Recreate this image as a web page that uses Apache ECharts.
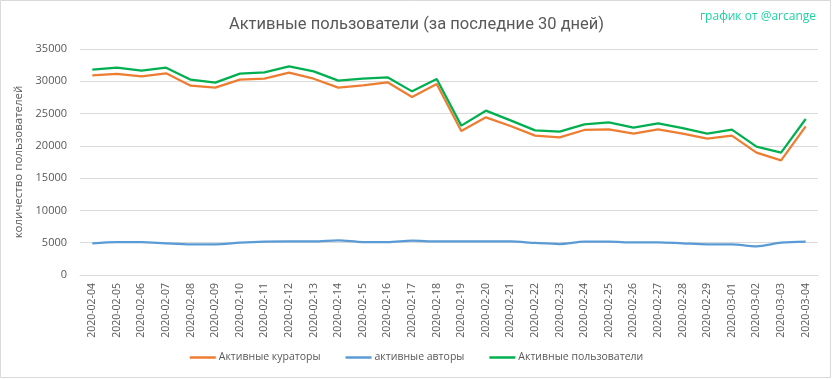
<!DOCTYPE html>
<html>
<head>
<meta charset="utf-8">
<script src="https://cdn.jsdelivr.net/npm/echarts@6/dist/echarts.min.js"></script>
<style>html,body{margin:0;padding:0;background:#fff}#c{width:833px;height:379px}</style>
</head>
<body>
<div id="c"></div>
<script>
const categories = ["2020-02-04","2020-02-05","2020-02-06","2020-02-07","2020-02-08","2020-02-09","2020-02-10","2020-02-11","2020-02-12","2020-02-13","2020-02-14","2020-02-15","2020-02-16","2020-02-17","2020-02-18","2020-02-19","2020-02-20","2020-02-21","2020-02-22","2020-02-23","2020-02-24","2020-02-25","2020-02-26","2020-02-27","2020-02-28","2020-02-29","2020-03-01","2020-03-02","2020-03-03","2020-03-04"];
const curators = [30920,31130,30770,31230,29320,29010,30250,30400,31330,30400,29010,29370,29840,27570,29580,22300,24420,23070,21580,21320,22460,22560,21890,22560,21890,21110,21580,18950,17760,23020];
const authors = [4900,5110,5100,4900,4750,4750,5000,5160,5210,5210,5370,5110,5110,5320,5210,5210,5210,5210,4960,4800,5160,5160,5060,5060,4900,4750,4750,4440,5000,5160];
const users = [31800,32110,31640,32110,30250,29790,31180,31390,32310,31540,30100,30400,30610,28440,30350,23130,25450,23950,22400,22200,23330,23640,22820,23490,22760,21890,22510,19870,18950,24160];
const seriesNames = ["Активные кураторы","активные авторы","Активные пользователи"];
const titleText = "Активные пользователи (за последние 30 дней)";
const creditText = "график от @arcange";
const yAxisName = "количество пользователей";

const chart = echarts.init(document.getElementById('c'), null, {renderer:'canvas'});
const txt = '#595959';
chart.setOption({
  animation:false,
  backgroundColor:'#fff',
  graphic:[{type:'rect',shape:{x:0.5,y:0.5,width:830,height:377},style:{fill:'none',stroke:'#D9D9D9',lineWidth:1}}],
  title:[
    {text:titleText,left:'center',top:11,textStyle:{fontFamily:'Roboto, sans-serif',fontSize:16.5,fontWeight:'normal',color:txt}},
    {text:creditText,right:12,top:6,textStyle:{fontFamily:'Open Sans, sans-serif',fontSize:12,fontWeight:'normal',color:'#1DD3A0'}}
  ],
  legend:{
    bottom:11,left:'center',icon:'rect',itemWidth:26,itemHeight:2.5,itemGap:25,
    textStyle:{fontFamily:'Open Sans, sans-serif',fontSize:10.5,color:txt,padding:[0,0,0,-2]},
    data:seriesNames
  },
  grid:{left:80,right:15,top:49,bottom:104,containLabel:false},
  xAxis:{
    type:'category',data:categories,boundaryGap:true,
    axisLine:{lineStyle:{color:'#D9D9D9'}},axisTick:{show:false},
    axisLabel:{rotate:90,color:txt,fontFamily:'Open Sans, sans-serif',fontSize:10.5,interval:0,margin:8}
  },
  yAxis:{
    type:'value',min:0,max:35000,interval:5000,
    name:yAxisName,nameLocation:'middle',nameGap:45,
    nameTextStyle:{color:txt,fontFamily:'Open Sans, sans-serif',fontSize:11.5},
    axisLine:{show:false},axisTick:{show:false},
    axisLabel:{color:txt,fontFamily:'Open Sans, sans-serif',fontSize:11,margin:13,formatter:function(v){return String(v);}},
    splitLine:{lineStyle:{color:'#D9D9D9'}}
  },
  series:[
    {name:seriesNames[0],type:'line',data:curators,symbol:'none',lineStyle:{color:'#ED7D31',width:2.25},itemStyle:{color:'#ED7D31'}},
    {name:seriesNames[1],type:'line',data:authors,symbol:'none',smooth:0.3,lineStyle:{color:'#5B9BD5',width:2.25},itemStyle:{color:'#5B9BD5'}},
    {name:seriesNames[2],type:'line',data:users,symbol:'none',lineStyle:{color:'#00B050',width:2.25},itemStyle:{color:'#00B050'}}
  ]
});
</script>
</body>
</html>
